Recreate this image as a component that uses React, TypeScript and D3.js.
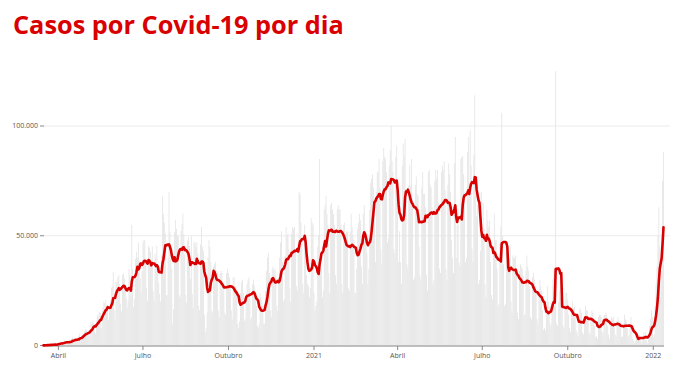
import React from "react";
import * as d3 from "d3";

// Daily new cases (thousands), one row per week (Mon..Sun), starting Mon 16 Mar 2020
const dailyCasesK: number[] = [
  0.05, 0.1, 0.1, 0.2, 0.3, 0.3, 0.35,
  0.35, 0.35, 0.23, 0.48, 0.5, 0.5, 0.35,
  0.3, 1.1, 1.1, 1.2, 1.1, 1.2, 0.8,
  0.9, 1.7, 2.2, 1.9, 1.5, 1.2, 1.0,
  1.3, 2.0, 3.0, 3.7, 3.3, 2.0, 1.9,
  2.1, 2.3, 3.7, 4.3, 5.5, 3.5, 2.4,
  4.6, 5.4, 6.3, 7.2, 7.1, 4.6, 4.1,
  6.6, 6.9, 10.5, 9.9, 11.0, 10.2, 6.6,
  5.6, 11.4, 13.9, 13.2, 15.3, 14.9, 7.9,
  13.1, 17.4, 19.9, 19.0, 20.8, 16.5, 15.8,
  11.7, 16.3, 20.6, 26.4, 26.9, 33.3, 16.4,
  12, 29, 29, 31, 32, 28, 19,
  15.6, 32.1, 32.9, 30.4, 25.9, 21.7, 17.1,
  20.6, 34.9, 32.2, 22.8, 55.0, 34.7, 17.5,
  21.4, 39.4, 42.7, 40.0, 46.9, 38.7, 30.5,
  24, 34, 47, 48, 48, 38, 26,
  20.2, 45.3, 44.6, 42.6, 39.0, 45.0, 24.8,
  20.3, 41.9, 39.9, 45.4, 34.2, 28.5, 23.5,
  20, 41, 67.9, 59.9, 55.9, 51.1, 23,
  23, 40, 70, 52, 46, 35, 10,
  16.6, 51.6, 57.2, 53.1, 49.9, 49.9, 23,
  22, 52.2, 55.2, 60.1, 50.6, 41.6, 23.1,
  19.4, 47.8, 49.3, 45.3, 30.4, 50, 23.4,
  17, 47, 47, 45, 47, 42, 18,
  16, 46, 54, 45, 43, 14, 6,
  8, 15, 40, 48, 45, 38, 16,
  15, 36, 37, 38, 33, 34, 16,
  13, 33, 34, 33, 29, 28, 15,
  14, 33, 35, 33, 31, 27, 16,
  12, 31, 31, 27, 27, 23, 10,
  8, 11, 24, 29, 30, 24, 11,
  12, 24, 28, 30, 31, 26, 12,
  13, 28, 30, 27, 22, 18, 9,
  8, 10, 24, 22, 20, 18, 10,
  10, 25, 34, 40, 42, 33, 16,
  13, 35, 36, 34, 35, 32, 18,
  16, 31, 40, 47, 52, 38, 20,
  21, 41, 54, 50, 51, 44, 26,
  20, 51, 54, 53, 54, 43, 27,
  25, 44, 70, 69, 56, 48, 28,
  24, 55, 50, 32, 28, 27, 22,
  26, 58, 56, 55, 24, 16, 18,
  20, 45, 50, 85, 40, 35, 22,
  25, 62, 64, 68, 60, 55, 33,
  24, 64, 65, 62, 60, 55, 32,
  28, 62, 64, 62, 62, 55, 28,
  24, 55, 56, 51, 52, 52, 26,
  25, 52, 60, 54, 50, 48, 24,
  24, 35, 53, 56, 60, 57, 36,
  28, 60, 64, 50, 48, 42, 28,
  35, 62, 74, 76, 78, 72, 60,
  38, 70, 79, 79, 85, 72, 44,
  37, 84, 90, 86, 85, 79, 47,
  49, 82, 89, 100, 84, 79, 44,
  42, 86, 91, 70, 38, 52, 38,
  28, 82, 92, 86, 94, 71, 37,
  35, 73, 82, 73, 85, 67, 30,
  31, 73, 77, 69, 68, 45, 32,
  30, 72, 79, 69, 69, 63, 32,
  25, 79, 80, 73, 72, 63, 28,
  30, 75, 80, 76, 80, 65, 35,
  33, 79, 82, 80, 84, 71, 35,
  30, 73, 83, 78, 70, 48, 40,
  33, 83, 95, 40, 55, 62, 38,
  36, 85, 86, 86, 78, 70, 38,
  40, 88, 95, 74, 98, 82, 44,
  38, 87, 114, 73, 59, 64, 28,
  30, 43, 70, 53, 65, 53, 28,
  22, 62, 57, 54, 57, 38, 23,
  21, 45, 60, 48, 48, 35, 18,
  19, 46, 54, 106, 50, 37, 18,
  19, 43, 41, 40, 40, 45, 20,
  15, 41, 40, 40, 41, 33, 15,
  12, 34, 37, 36, 35, 32, 14,
  14, 34, 41, 36, 34, 27, 13,
  12, 31, 33, 30, 27, 25, 12,
  10, 25, 30, 27, 25, 16, 7,
  8, 7, 18, 27, 20, 18, 9,
  10, 18, 30, 34, 18, 125, 10,
  9, 20, 25, 22, 20, 18, 9,
  8, 19, 24, 24, 21, 14, 8,
  6, 15, 20, 17, 18, 14, 7,
  6, 4, 10, 17, 16, 15, 6,
  5, 13, 18, 16, 16, 11, 6,
  5, 13, 16, 15, 12, 9, 4,
  4, 3, 13, 14, 14, 13, 6,
  6, 14, 14, 15, 14, 9, 5,
  3, 10, 13, 12, 13, 11, 5,
  4, 11, 13, 11, 11, 8, 4,
  4, 10, 14, 12, 11, 8, 4,
  5, 9, 13, 10, 3, 2, 1,
  2, 4, 5, 4, 5, 3, 1,
  2, 4, 6, 5, 6, 2, 1,
  5, 9, 12, 16, 13, 4, 5,
  18, 28, 36, 50, 63, 45, 22,
  34, 75, 88,
];

const startDate = new Date(2020, 2, 16);
const endDate = new Date(2022, 0, 12);

const yTicks: number[] = [0, 50000, 100000];
const xTickDates: Date[] = [
  new Date(2020, 3, 1),
  new Date(2020, 6, 1),
  new Date(2020, 9, 1),
  new Date(2021, 0, 1),
  new Date(2021, 3, 1),
  new Date(2021, 6, 1),
  new Date(2021, 9, 1),
  new Date(2022, 0, 1),
];
const xTickLabels: string[] = ["Abril", "Julho", "Outubro", "2021", "Abril", "Julho", "Outubro", "2022"];

const titleText = "Casos por Covid-19 por dia";

const RED = "#d80000";
const FONT = "'Open Sans', 'Noto Sans', sans-serif";

const ptBR = d3.formatLocale({ decimal: ",", thousands: ".", grouping: [3], currency: ["R$", ""] });
const fmt = ptBR.format(",d");

export default function App() {
  const W = 675;
  const H = 378;

  const x = d3.scaleTime().domain([startDate, endDate]).range([43.5, 663.5]);
  const y = d3.scaleLinear().domain([0, 100000]).range([345.5, 126]);

  const rows = dailyCasesK.map((v, i) => ({
    date: d3.timeDay.offset(startDate, i),
    value: v * 1000,
  }));
  const avg = rows.map((r, i) => {
    const s = rows.slice(Math.max(0, i - 6), i + 1);
    return { date: r.date, value: d3.mean(s, (d) => d.value) as number };
  });

  const step = x(d3.timeDay.offset(startDate, 1)) - x(startDate);
  const bw = step * 0.85;

  const line = d3
    .line<{ date: Date; value: number }>()
    .x((d) => x(d.date))
    .y((d) => y(d.value));

  return (
    <svg
      width={W}
      height={H}
      viewBox={`0 0 ${W} ${H}`}
      style={{ position: "absolute", left: 0, top: 0, background: "#fff" }}
    >
      <text x={13} y={33.5} fill={RED} fontFamily={FONT} fontWeight={700} fontSize={25.3}>
        {titleText}
      </text>

      {yTicks.map((t) => (
        <g key={"y" + t}>
          {t > 0 && <line x1={44} x2={670} y1={y(t)} y2={y(t)} stroke="#ececec" strokeWidth={1} />}
          <line x1={40} x2={44} y1={y(t)} y2={y(t)} stroke="#888" strokeWidth={1} />
          <text
            x={38}
            y={y(t)}
            dy="0.35em"
            textAnchor="end"
            fontFamily={FONT}
            fontSize={7}
            fill="#555"
          >
            {fmt(t)}
          </text>
        </g>
      ))}

      <g>
        {rows.map((r, i) => (
          <rect
            key={i}
            x={x(r.date) - bw / 2}
            y={y(r.value)}
            width={bw}
            height={y(0) - y(r.value)}
            fill="#e3e3e3"
          />
        ))}
      </g>

      <line x1={44} x2={664} y1={y(0) + 0.5} y2={y(0) + 0.5} stroke="#aaa" strokeWidth={1.5} />

      {xTickDates.map((d, i) => (
        <g key={"x" + i}>
          <line x1={x(d)} x2={x(d)} y1={346} y2={350} stroke="#888" strokeWidth={1} />
          <text
            x={x(d)}
            y={356}
            dy="0.35em"
            textAnchor="middle"
            fontFamily={FONT}
            fontSize={7}
            fill="#555"
          >
            {xTickLabels[i]}
          </text>
        </g>
      ))}

      <path
        d={line(avg) || ""}
        fill="none"
        stroke={RED}
        strokeWidth={2.6}
        strokeLinejoin="round"
        strokeLinecap="round"
      />
    </svg>
  );
}
